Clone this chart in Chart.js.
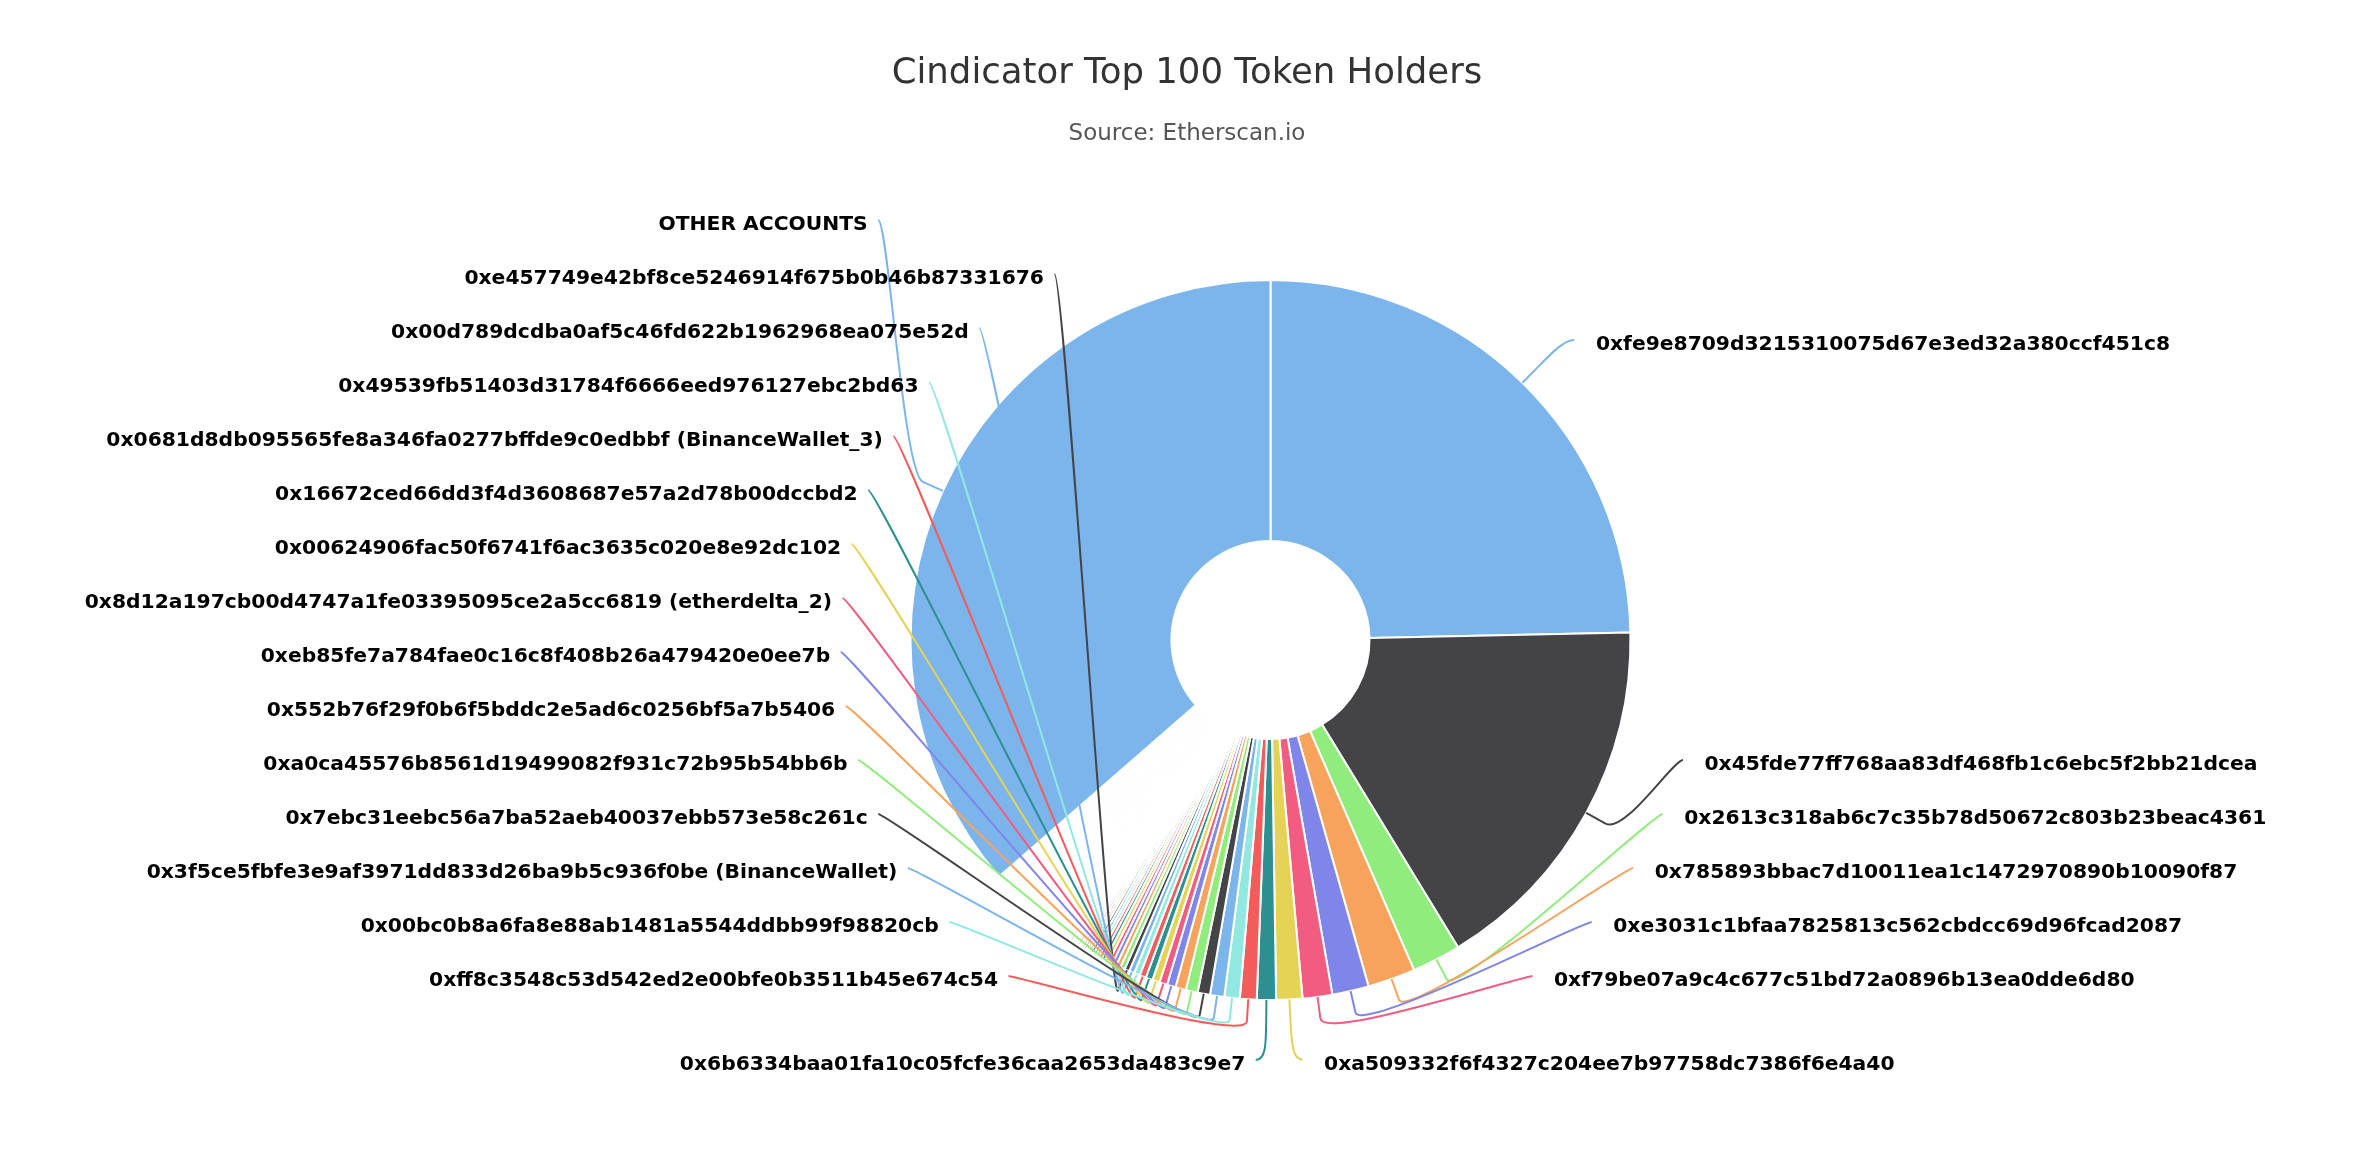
<!DOCTYPE html>
<html>
<head>
<meta charset="utf-8">
<title>Cindicator Top 100 Token Holders</title>
<script src="https://cdn.jsdelivr.net/npm/chart.js@4.4.1/dist/chart.umd.min.js"></script>
<style>
    html, body { margin: 0; padding: 0; background: #ffffff; }
    #wrap { width: 2363px; height: 1165px; position: relative; }
</style>
</head>
<body>
<div id="wrap"><canvas id="holdersChart"></canvas></div>
<script>
/* ---------------- Data ---------------- */
const chartTitle = 'Cindicator Top 100 Token Holders';
const chartSubtitle = 'Source: Etherscan.io';

// top 22 holders, in rank order (share of supply, %)
const namedHolders = [
    '0xfe9e8709d3215310075d67e3ed32a380ccf451c8',
    '0x45fde77ff768aa83df468fb1c6ebc5f2bb21dcea',
    '0x2613c318ab6c7c35b78d50672c803b23beac4361',
    '0x785893bbac7d10011ea1c1472970890b10090f87',
    '0xe3031c1bfaa7825813c562cbdcc69d96fcad2087',
    '0xf79be07a9c4c677c51bd72a0896b13ea0dde6d80',
    '0xa509332f6f4327c204ee7b97758dc7386f6e4a40',
    '0x6b6334baa01fa10c05fcfe36caa2653da483c9e7',
    '0xff8c3548c53d542ed2e00bfe0b3511b45e674c54',
    '0x00bc0b8a6fa8e88ab1481a5544ddbb99f98820cb',
    '0x3f5ce5fbfe3e9af3971dd833d26ba9b5c936f0be (BinanceWallet)',
    '0x7ebc31eebc56a7ba52aeb40037ebb573e58c261c',
    '0xa0ca45576b8561d19499082f931c72b95b54bb6b',
    '0x552b76f29f0b6f5bddc2e5ad6c0256bf5a7b5406',
    '0xeb85fe7a784fae0c16c8f408b26a479420e0ee7b',
    '0x8d12a197cb00d4747a1fe03395095ce2a5cc6819 (etherdelta_2)',
    '0x00624906fac50f6741f6ac3635c020e8e92dc102',
    '0x16672ced66dd3f4d3608687e57a2d78b00dccbd2',
    '0x0681d8db095565fe8a346fa0277bffde9c0edbbf (BinanceWallet_3)',
    '0x49539fb51403d31784f6666eed976127ebc2bd63',
    '0x00d789dcdba0af5c46fd622b1962968ea075e52d',
    '0xe457749e42bf8ce5246914f675b0b46b87331676'
];
const namedShares = [
    24.67, 16.61, 2.19, 2.14, 1.64, 1.33, 1.17, 0.86, 0.75, 0.69, 0.64,
    0.56, 0.53, 0.47, 0.39, 0.35, 0.33, 0.31, 0.29, 0.26, 0.24, 0.22
];

// holders #23 - #100 (too small to get a label)
const minorShares = [
    0.21, 0.20, 0.19, 0.18, 0.17, 0.16, 0.15, 0.145, 0.14, 0.13, 0.125, 0.12, 0.115, 0.11,
    0.104, 0.102, 0.100, 0.099, 0.097, 0.096, 0.094, 0.093, 0.092, 0.091,
    0.090, 0.089, 0.088, 0.087, 0.086, 0.085, 0.084, 0.083, 0.083, 0.082,
    0.081, 0.080, 0.079, 0.079, 0.078, 0.077, 0.076, 0.076, 0.075, 0.074,
    0.074, 0.073, 0.072, 0.072, 0.071, 0.071, 0.070, 0.069, 0.069, 0.068,
    0.068, 0.067, 0.067, 0.066, 0.066, 0.065, 0.065, 0.064, 0.064, 0.063,
    0.063, 0.062, 0.062, 0.061, 0.061, 0.061, 0.060, 0.060, 0.059, 0.059,
    0.059, 0.058, 0.058, 0.058
];

const otherLabel = 'OTHER ACCOUNTS';
const otherShare = 36.41;

const palette = ['#7cb5ec', '#434348', '#90ed7d', '#f7a35c', '#8085e9',
                 '#f15c80', '#e4d354', '#2b908f', '#f45b5b', '#91e8e1'];

const holderLabels = namedHolders.concat(minorShares.map((v, i) => 'Holder #' + (i + 23)), [otherLabel]);
const holderShares = namedShares.concat(minorShares, [otherShare]);
const sliceColors = holderShares.map((v, i) => palette[i % palette.length]);

/* ---------------- Title block ---------------- */
const titleBlock = {
    id: 'titleBlock',
    afterDraw(chart, args, opts) {
        const ctx = chart.ctx;
        ctx.save();
        ctx.textAlign = 'center';
        ctx.textBaseline = 'alphabetic';
        ctx.fillStyle = '#333333';
        ctx.font = '35.5px "DejaVu Sans"';
        ctx.fillText(opts.title, opts.x, opts.titleY);
        ctx.fillStyle = '#555555';
        ctx.font = '23px "DejaVu Sans"';
        ctx.fillText(opts.subtitle, opts.x, opts.subtitleY);
        ctx.restore();
    }
};

/* ---------------- Outside labels with connectors ---------------- */
const pieLabels = {
    id: 'pieLabels',
    afterDatasetsDraw(chart, args, opts) {
        const arcs = chart.getDatasetMeta(0).data;
        if (!arcs.length) return;
        const ctx = chart.ctx;
        const ds = chart.data.datasets[0];
        const cx = arcs[0].x, cy = arcs[0].y, r = arcs[0].outerRadius;
        const R = r + opts.distance;
        const top = cy - R, bottom = cy + R;
        const getX = (y, left) => cx + (left ? -1 : 1) *
            Math.cos(Math.asin(Math.max(-1, Math.min(1, (y - cy) / R)))) * R;

        const halves = [[], []];
        arcs.forEach((arc, i) => {
            const {startAngle, endAngle} = arc.getProps(['startAngle', 'endAngle'], true);
            const a = (startAngle + endAngle) / 2;
            const c = Math.cos(a), s = Math.sin(a);
            const left = a < -Math.PI / 2 || a > Math.PI / 2;
            halves[left ? 1 : 0].push({
                i, a, left, value: ds.data[i],
                natural: {x: cx + c * R, y: cy + s * R},
                breakAt: {x: cx + c * (r + opts.connectorOffset), y: cy + s * (r + opts.connectorOffset)},
                touch: {x: cx + c * r, y: cy + s * r}
            });
        });

        const placed = [];
        halves.forEach(half => {
            if (!half.length) return;
            const left = half[0].left;
            let pts = half.slice().sort((p, q) => left ? q.a - p.a : p.a - q.a);
            const slots = [];
            for (let pos = top; pos <= bottom; pos += opts.slotHeight) slots.push(pos);
            const n = slots.length;
            // keep the biggest points if there are more labels than slots
            if (pts.length > n) {
                pts.slice().sort((p, q) => q.value - p.value).forEach((p, k) => { p.rank = k; });
                pts = pts.filter(p => p.rank < n);
            }
            const used = [];
            pts.forEach((p, j) => {
                let closest = Infinity, idx = 0;
                slots.forEach((sy, k) => {
                    if (sy === null) return;
                    const d = Math.abs(sy - p.natural.y);
                    if (d < closest) { closest = d; idx = k; }
                });
                if (idx < j && slots[j] !== null) {
                    idx = j;
                } else if (n < pts.length - j + idx && slots[j] !== null) {
                    idx = n - pts.length + j;
                    while (slots[idx] === null) idx++;
                } else {
                    while (slots[idx] === null) idx++;
                }
                used.push({i: idx, y: slots[idx]});
                slots[idx] = null;
            });
            used.sort((u, v) => v.y - u.y);
            pts.forEach(p => {
                const slot = used.pop();
                const ny = p.natural.y;
                let y = slot.y;
                if ((ny > y && slots[slot.i + 1] !== null) || (ny < y && slots[slot.i - 1] !== null)) {
                    y = Math.min(Math.max(0, ny), chart.height);
                }
                const x = getX(y === top || y === bottom ? ny : y, left);
                p.final = {x, y};
                placed.push(p);
            });
        });

        ctx.save();
        ctx.lineWidth = opts.connectorWidth;
        placed.forEach(p => {
            const {x, y} = p.final;
            ctx.strokeStyle = ds.backgroundColor[p.i];
            ctx.beginPath();
            ctx.moveTo(x + (p.left ? -1 : 1) * opts.connectorPadding, y);
            ctx.bezierCurveTo(x, y,
                2 * p.breakAt.x - p.touch.x, 2 * p.breakAt.y - p.touch.y,
                p.breakAt.x, p.breakAt.y);
            ctx.lineTo(p.touch.x, p.touch.y);
            ctx.stroke();
        });

        ctx.font = opts.font;
        ctx.fillStyle = opts.color;
        ctx.textBaseline = 'middle';
        placed.forEach(p => {
            const {x, y} = p.final;
            ctx.textAlign = p.left ? 'right' : 'left';
            const tx = p.left ? x - opts.textGapLeft : x + opts.textGapRight;
            ctx.fillText(chart.data.labels[p.i], tx, y + opts.textShiftY);
        });
        ctx.restore();
    }
};

/* ---------------- Chart ---------------- */
const ctx = document.getElementById('holdersChart').getContext('2d');
window.holdersChart = new Chart(ctx, {
    type: 'doughnut',
    data: {
        labels: holderLabels,
        datasets: [{
            data: holderShares,
            backgroundColor: sliceColors,
            borderColor: '#ffffff',
            borderWidth: 2,
            hoverOffset: 0
        }]
    },
    options: {
        responsive: true,
        maintainAspectRatio: false,
        animation: false,
        events: [],
        cutout: '27.5%',
        layout: { padding: { top: 279, bottom: 164, left: 800, right: 622 } },
        plugins: {
            legend: { display: false },
            tooltip: { enabled: false },
            titleBlock: { title: chartTitle, subtitle: chartSubtitle, x: 1187, titleY: 83, subtitleY: 140 },
            pieLabels: {
                distance: 60,
                connectorOffset: 22,
                connectorPadding: 10,
                connectorWidth: 2,
                slotHeight: 54,
                textGapLeft: 20.5,
                textGapRight: 31.5,
                textShiftY: 5,
                font: 'bold 20.3px "DejaVu Sans"',
                color: '#000000'
            }
        }
    },
    plugins: [pieLabels, titleBlock]
});
</script>
</body>
</html>
